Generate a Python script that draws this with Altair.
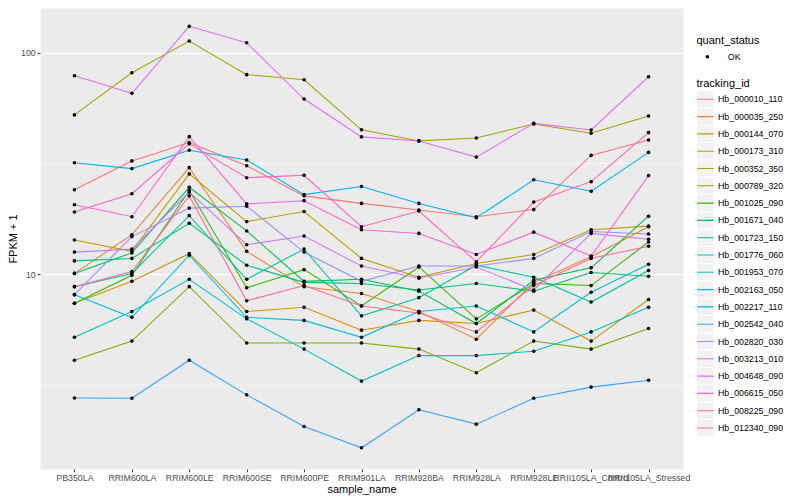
import altair as alt
import pandas as pd

samples = ["PB350LA", "RRIM600LA", "RRIM600LE", "RRIM600SE", "RRIM600PE",
           "RRIM901LA", "RRIM928BA", "RRIM928LA", "RRIM928LE",
           "RRII105LA_Control", "RRII105LA_Stressed"]

tracking_ids = ["Hb_000010_110", "Hb_000035_250", "Hb_000144_070", "Hb_000173_310",
                "Hb_000352_350", "Hb_000789_320", "Hb_001025_090", "Hb_001671_040",
                "Hb_001723_150", "Hb_001776_060", "Hb_001953_070", "Hb_002163_050",
                "Hb_002217_110", "Hb_002542_040", "Hb_002820_030", "Hb_003213_010",
                "Hb_004648_090", "Hb_006615_050", "Hb_008225_090", "Hb_012340_090"]

palette = ["#F8766D", "#EA8331", "#D89000", "#C09B00", "#A3A500", "#7CAE00",
           "#39B600", "#00BB4E", "#00BF7D", "#00C1A3", "#00BFC4", "#00BAE0",
           "#00B0F6", "#35A2FF", "#9590FF", "#C77CFF", "#E76BF3", "#FA62DB",
           "#FF62BC", "#FF6C91"]

quant_levels = ["OK"]

# FPKM + 1 per sample (same order as samples)
hb_000010_110 = [24.1, 32.5, 39.3, 30.9, 22.6, 20.9, 19.5, 18.2, 19.6, 34.4, 40.4]
hb_000035_250 = [10.1, 15.1, 30.3, 12.7, 8.8, 8.2, 6.8, 5.1, 9.2, 12.0, 16.4]
hb_000144_070 = [7.4, 9.3, 12.4, 6.8, 7.1, 5.6, 6.2, 6.0, 6.9, 5.0, 7.7]
hb_000173_310 = [14.3, 12.7, 28.4, 17.3, 19.2, 11.8, 9.7, 11.2, 12.3, 15.9, 16.5]
hb_000352_350 = [52.4, 81.2, 112.9, 79.6, 75.5, 44.9, 40.0, 41.2, 47.7, 43.3, 51.8]
hb_000789_320 = [4.1, 5.0, 8.8, 4.9, 4.9, 4.9, 4.6, 3.6, 5.0, 4.6, 5.7]
hb_001025_090 = [7.4, 9.9, 23.9, 8.7, 10.5, 7.2, 10.8, 6.3, 9.1, 8.9, 14.0]
hb_001671_040 = [10.1, 12.5, 24.7, 15.7, 9.3, 9.5, 8.4, 6.0, 9.4, 10.7, 18.3]
hb_001723_150 = [11.5, 11.8, 17.0, 11.0, 9.2, 9.1, 8.5, 9.1, 8.4, 10.2, 9.8]
hb_001776_060 = [8.8, 10.1, 18.4, 9.5, 13.0, 6.5, 7.85, 11.0, 9.7, 7.5, 10.4]
hb_001953_070 = [5.2, 6.8, 9.5, 6.3, 4.6, 3.3, 4.3, 4.3, 4.5, 5.5, 7.1]
hb_002163_050 = [8.1, 6.4, 12.2, 6.4, 6.2, 5.2, 6.8, 7.2, 5.5, 8.3, 11.1]
hb_002217_110 = [31.9, 30.0, 36.3, 32.8, 22.9, 24.9, 20.9, 18.0, 26.7, 23.7, 35.5]
hb_002542_040 = [2.77, 2.76, 4.1, 2.86, 2.06, 1.65, 2.45, 2.11, 2.76, 3.10, 3.33]
hb_002820_030 = [8.1, 14.8, 19.9, 20.3, 12.6, 9.3, 10.9, 10.9, 11.8, 15.6, 15.2]
hb_003213_010 = [12.6, 13.0, 23.5, 13.6, 14.9, 10.9, 9.6, 10.8, 8.5, 15.3, 14.4]
hb_004648_090 = [78.7, 65.6, 131.5, 110.9, 61.8, 41.7, 40.0, 33.8, 48.0, 44.8, 77.9]
hb_006615_050 = [20.6, 18.2, 41.8, 20.8, 21.5, 15.9, 15.3, 12.3, 15.5, 12.1, 27.9]
hb_008225_090 = [19.1, 23.1, 38.8, 27.3, 28.0, 16.4, 19.3, 11.4, 21.2, 26.2, 43.6]
hb_012340_090 = [8.8, 10.3, 22.6, 7.6, 8.9, 7.2, 6.7, 5.5, 8.9, 11.8, 13.4]

series = [hb_000010_110, hb_000035_250, hb_000144_070, hb_000173_310, hb_000352_350,
          hb_000789_320, hb_001025_090, hb_001671_040, hb_001723_150, hb_001776_060,
          hb_001953_070, hb_002163_050, hb_002217_110, hb_002542_040, hb_002820_030,
          hb_003213_010, hb_004648_090, hb_006615_050, hb_008225_090, hb_012340_090]

y_breaks = [10, 100]
y_minor_breaks = [3.1623, 31.623]
y_limits = [1.324, 159.1]

# legend key backgrounds use their own (distinct) key names so that
# Vega-Lite does not merge them with the real legends
track_keys = ["key " + t for t in tracking_ids]
quant_keys = ["key " + q for q in quant_levels]

rows = []
for tid, tkey, vals in zip(tracking_ids, track_keys, series):
    for i, (s, v) in enumerate(zip(samples, vals)):
        rows.append({"sample_name": s, "idx": i, "tracking_id": tid, "fpkm": v,
                     "quant_status": quant_levels[0], "track_key": tkey,
                     "quant_key": quant_keys[0]})
df = pd.DataFrame(rows)
df_minor = pd.DataFrame({"minor": y_minor_breaks})

FONT = "Liberation Sans"
LX, LY_Q, LY_T = 656.5, 27.0, 69.5
KEY = 16.6

x_enc = alt.X("sample_name:N", sort=samples,
              scale=alt.Scale(type="point", domain=samples, padding=0.6),
              axis=alt.Axis(title="sample_name", labelAngle=0, labelOverlap=False,
                            labelFlush=False, titlePadding=1.0))
y_scale = alt.Scale(type="log", domain=y_limits, nice=False)
y_enc = alt.Y("fpkm:Q", scale=y_scale,
              axis=alt.Axis(title="FPKM + 1", values=y_breaks, format="d",
                            titlePadding=2))

minor = alt.Chart(df_minor).mark_rule(color="white", strokeWidth=0.55).encode(
    y=alt.Y("minor:Q", scale=y_scale, title="FPKM + 1")
)

lines = alt.Chart(df).mark_line(strokeWidth=1.07).encode(
    x=x_enc, y=y_enc,
    order=alt.Order("idx:Q"),
    color=alt.Color("tracking_id:N",
                    scale=alt.Scale(domain=tracking_ids, range=palette),
                    legend=alt.Legend(orient="none", legendX=LX, legendY=LY_T,
                                      title="tracking_id", symbolType="stroke",
                                      symbolSize=KEY * KEY, symbolStrokeWidth=1.1,
                                      clipHeight=KEY, zindex=2)),
)

points = alt.Chart(df).mark_point(filled=True, color="black", size=13,
                                  opacity=1).encode(
    x=x_enc, y=y_enc,
    shape=alt.Shape("quant_status:N",
                    scale=alt.Scale(domain=quant_levels, range=["circle"]),
                    legend=alt.Legend(orient="none", legendX=LX, legendY=LY_Q,
                                      title="quant_status", symbolSize=13,
                                      symbolFillColor="black",
                                      symbolStrokeWidth=0, symbolOffset=6.5,
                                      labelOffset=16.0, clipHeight=KEY,
                                      zindex=2)),
)

bg_track = alt.Chart(df).transform_filter("datum.fpkm < 0").mark_square(
    filled=True, color="#F2F2F2", opacity=1).encode(
    x=x_enc, y=y_enc,
    size=alt.Size("track_key:N",
                  scale=alt.Scale(type="point", domain=track_keys,
                                  range=[KEY * KEY, KEY * KEY]),
                  legend=alt.Legend(orient="none", legendX=LX, legendY=LY_T,
                                    title="tracking_id", titleColor="transparent",
                                    labelExpr="''", symbolType="square",
                                    symbolStrokeWidth=0, clipHeight=KEY,
                                    symbolStrokeColor="transparent", zindex=1)),
)

bg_quant = alt.Chart(df).transform_filter("datum.fpkm < 0").mark_square(
    filled=True, color="#F2F2F2", opacity=1).encode(
    x=x_enc, y=y_enc,
    fillOpacity=alt.FillOpacity("quant_key:N",
                                scale=alt.Scale(type="point", domain=quant_keys,
                                                range=[1, 1]),
                                legend=alt.Legend(orient="none", legendX=LX,
                                                  legendY=LY_Q, title="quant_status",
                                                  titleColor="transparent",
                                                  labelExpr="''",
                                                  symbolType="square",
                                                  symbolSize=KEY * KEY,
                                                  symbolFillColor="#F2F2F2",
                                                  symbolStrokeWidth=0,
                                                  clipHeight=KEY, zindex=1)),
)

chart = alt.layer(minor, lines, points, bg_track, bg_quant).properties(
    width=643, height=461,
    autosize=alt.AutoSizeParams(type="none"),
    padding={"left": 32, "top": 0, "right": 109, "bottom": 28},
).configure(font=FONT).configure_view(
    fill="#EBEBEB", stroke="transparent"
).configure_axis(
    labelFont=FONT, labelFontSize=8.8, labelColor="#4D4D4D",
    tickColor="#333333", tickSize=2.75, tickWidth=1.07, domain=False,
    gridColor="white", gridWidth=1.07, titleFont=FONT, titleFontSize=11,
    titleFontWeight="normal", titleColor="black", labelPadding=2,
).configure_legend(
    titleFont=FONT, titleFontSize=11, titleFontWeight="normal", titleColor="black",
    labelFont=FONT, labelFontSize=8.8, labelColor="black", padding=0,
    labelOffset=3.5, rowPadding=0.3, titlePadding=2.5,
)

chart.save("out.html", embed_options={"renderer": "svg", "actions": False})
